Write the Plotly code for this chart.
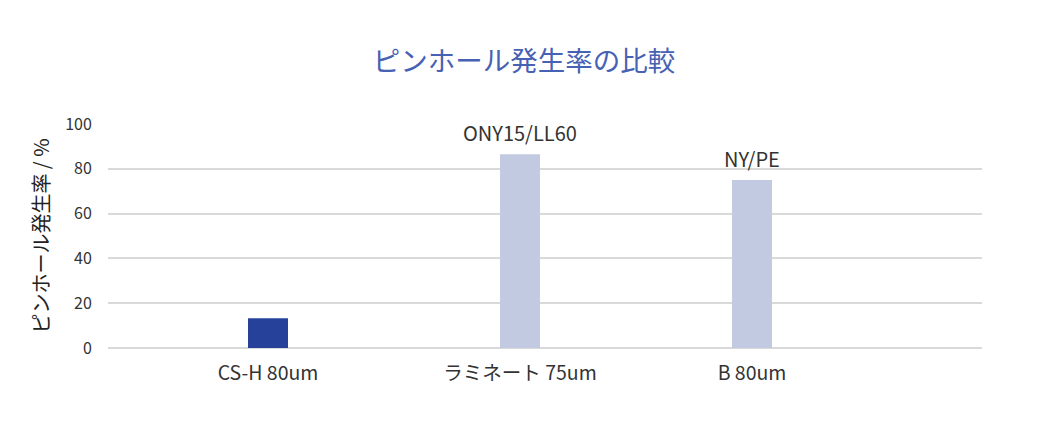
import plotly.graph_objects as go

# data
categories = ["CS-H 80um", "ラミネート 75um", "B 80um"]
rates = [13.3, 86.5, 75.0]
bar_notes = ["", "ONY15/LL60", "NY/PE"]
bar_colors = ["#26419a", "#c2cae2", "#c2cae2"]

# layout: bars are not evenly spaced in the original
x_pos = [1.60, 4.12, 6.44]

font = "Noto Sans CJK JP"

fig = go.Figure()
fig.add_trace(go.Bar(x=x_pos, y=rates, width=0.40,
                     marker=dict(color=bar_colors, line=dict(width=0)),
                     hoverinfo="skip"))

for xp, val, note in zip(x_pos, rates, bar_notes):
    if note:
        fig.add_annotation(x=xp, y=val, text=note, showarrow=False,
                           yanchor="bottom", yshift=5,
                           font=dict(family=font, size=20, color="#333333"))

# page body adds an 8px offset, so size and left/top margins are trimmed
fig.update_layout(
    width=1032, height=418,
    margin=dict(l=100, r=58, t=116, b=78),
    paper_bgcolor="white", plot_bgcolor="white",
    showlegend=False,
    title=dict(text="ピンホール発生率の比較", x=0.5, xanchor="center",
               y=1 - 53 / 418, yanchor="middle",
               font=dict(family=font, size=27.5, color="#4761b3")),
    font=dict(family=font, color="#333333"),
)
fig.update_xaxes(range=[0, 8.74], tickvals=x_pos, ticktext=categories,
                 showgrid=False, zeroline=False, showline=False,
                 ticks="outside", ticklen=8, tickcolor="white",
                 tickfont=dict(family=font, size=19.5, color="#333333"),
                 fixedrange=True)
fig.update_yaxes(range=[0, 100], dtick=20,
                 showgrid=True, gridcolor="#d9d9d9", gridwidth=1.5,
                 zeroline=True, zerolinecolor="#d9d9d9", zerolinewidth=1.5,
                 showline=False,
                 ticks="outside", ticklen=12, tickcolor="white",
                 tickfont=dict(family=font, size=16, color="#333333"),
                 title=dict(text="ピンホール発生率 / %", standoff=10,
                            font=dict(family=font, size=20, color="#222222")),
                 fixedrange=True)

fig.write_html("out.html")
